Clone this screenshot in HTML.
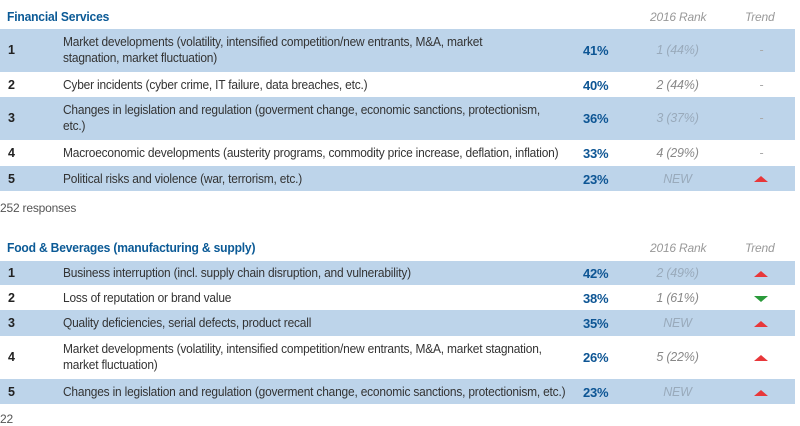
<!DOCTYPE html>
<html><head><style>
body{margin:0;width:800px;height:418px;background:#fff;position:relative;overflow:hidden;font-family:"Liberation Sans",sans-serif;font-size:12.5px;color:#333;letter-spacing:-0.2px}
.a{position:absolute}
.h{font-weight:bold;color:#0b5a96;font-size:13px;transform:scaleX(0.93);transform-origin:left}
.r{position:absolute;left:0;width:795px}
.b{background:#bdd4ea}
.n{position:absolute;left:8px;font-weight:bold;color:#222}
.t{position:absolute;left:63px;white-space:nowrap;line-height:16px;transform:scaleX(0.955);transform-origin:left top}
.p{position:absolute;left:583px;font-weight:bold;color:#0d5594;font-size:13px}
.k{position:absolute;left:640px;width:75px;text-align:center;font-style:italic;color:#888}
.kb{color:#9ab}
.tr{position:absolute;left:724px;width:75px;text-align:center;color:#aaa}
.up{position:absolute;left:754px;width:0;height:0;border-left:7px solid transparent;border-right:7px solid transparent;border-bottom:6px solid #e8373a}
.dn{position:absolute;left:754px;width:0;height:0;border-left:7px solid transparent;border-right:7px solid transparent;border-top:6px solid #2a9a3a}
.hd{position:absolute;font-style:italic;color:#999;font-size:12px}
</style></head><body>
<div class="a h" style="left:7px;top:9px">Financial Services</div>
<div class="hd" style="left:650px;top:10px">2016 Rank</div>
<div class="hd" style="left:745px;top:10px">Trend</div>

<div class="r b" style="top:29px;height:43px"><div class="n" style="top:14px">1</div><div class="t" style="top:5px">Market developments (volatility, intensified competition/new entrants, M&amp;A, market<br>stagnation, market fluctuation)</div><div class="p" style="top:14px">41%</div><div class="k kb" style="top:14px">1 (44%)</div><div class="tr" style="top:14px">-</div></div>
<div class="r" style="top:72px;height:25px"><div class="n" style="top:6px">2</div><div class="t" style="top:5px">Cyber incidents (cyber crime, IT failure, data breaches, etc.)</div><div class="p" style="top:6px">40%</div><div class="k" style="top:6px">2 (44%)</div><div class="tr" style="top:6px">-</div></div>
<div class="r b" style="top:97px;height:43px"><div class="n" style="top:14px">3</div><div class="t" style="top:5px">Changes in legislation and regulation (goverment change, economic sanctions, protectionism,<br>etc.)</div><div class="p" style="top:14px">36%</div><div class="k kb" style="top:14px">3 (37%)</div><div class="tr" style="top:14px">-</div></div>
<div class="r" style="top:140px;height:26px"><div class="n" style="top:6px">4</div><div class="t" style="top:5px">Macroeconomic developments (austerity programs, commodity price increase, deflation, inflation)</div><div class="p" style="top:6px">33%</div><div class="k" style="top:6px">4 (29%)</div><div class="tr" style="top:6px">-</div></div>
<div class="r b" style="top:166px;height:25px"><div class="n" style="top:6px">5</div><div class="t" style="top:5px">Political risks and violence (war, terrorism, etc.)</div><div class="p" style="top:6px">23%</div><div class="k kb" style="top:6px">NEW</div><div class="up" style="top:10px"></div></div>

<div class="a" style="left:0;top:201px;color:#555;font-size:12px">252 responses</div>

<div class="a h" style="left:7px;top:240px">Food &amp; Beverages (manufacturing &amp; supply)</div>
<div class="hd" style="left:650px;top:241px">2016 Rank</div>
<div class="hd" style="left:745px;top:241px">Trend</div>

<div class="r b" style="top:261px;height:24px"><div class="n" style="top:5px">1</div><div class="t" style="top:4px">Business interruption (incl. supply chain disruption, and vulnerability)</div><div class="p" style="top:5px">42%</div><div class="k kb" style="top:5px">2 (49%)</div><div class="up" style="top:10px"></div></div>
<div class="r" style="top:285px;height:25px"><div class="n" style="top:6px">2</div><div class="t" style="top:5px">Loss of reputation or brand value</div><div class="p" style="top:6px">38%</div><div class="k" style="top:6px">1 (61%)</div><div class="dn" style="top:11px"></div></div>
<div class="r b" style="top:310px;height:26px"><div class="n" style="top:6px">3</div><div class="t" style="top:5px">Quality deficiencies, serial defects, product recall</div><div class="p" style="top:6px">35%</div><div class="k kb" style="top:6px">NEW</div><div class="up" style="top:11px"></div></div>
<div class="r" style="top:336px;height:43px"><div class="n" style="top:14px">4</div><div class="t" style="top:5px">Market developments (volatility, intensified competition/new entrants, M&amp;A, market stagnation,<br>market fluctuation)</div><div class="p" style="top:14px">26%</div><div class="k" style="top:14px">5 (22%)</div><div class="up" style="top:19px"></div></div>
<div class="r b" style="top:379px;height:25px"><div class="n" style="top:6px">5</div><div class="t" style="top:5px">Changes in legislation and regulation (goverment change, economic sanctions, protectionism, etc.)</div><div class="p" style="top:6px">23%</div><div class="k kb" style="top:6px">NEW</div><div class="up" style="top:11px"></div></div>
<div class="a" style="left:0;top:412px;color:#555;font-size:12px">22</div>
</body></html>
